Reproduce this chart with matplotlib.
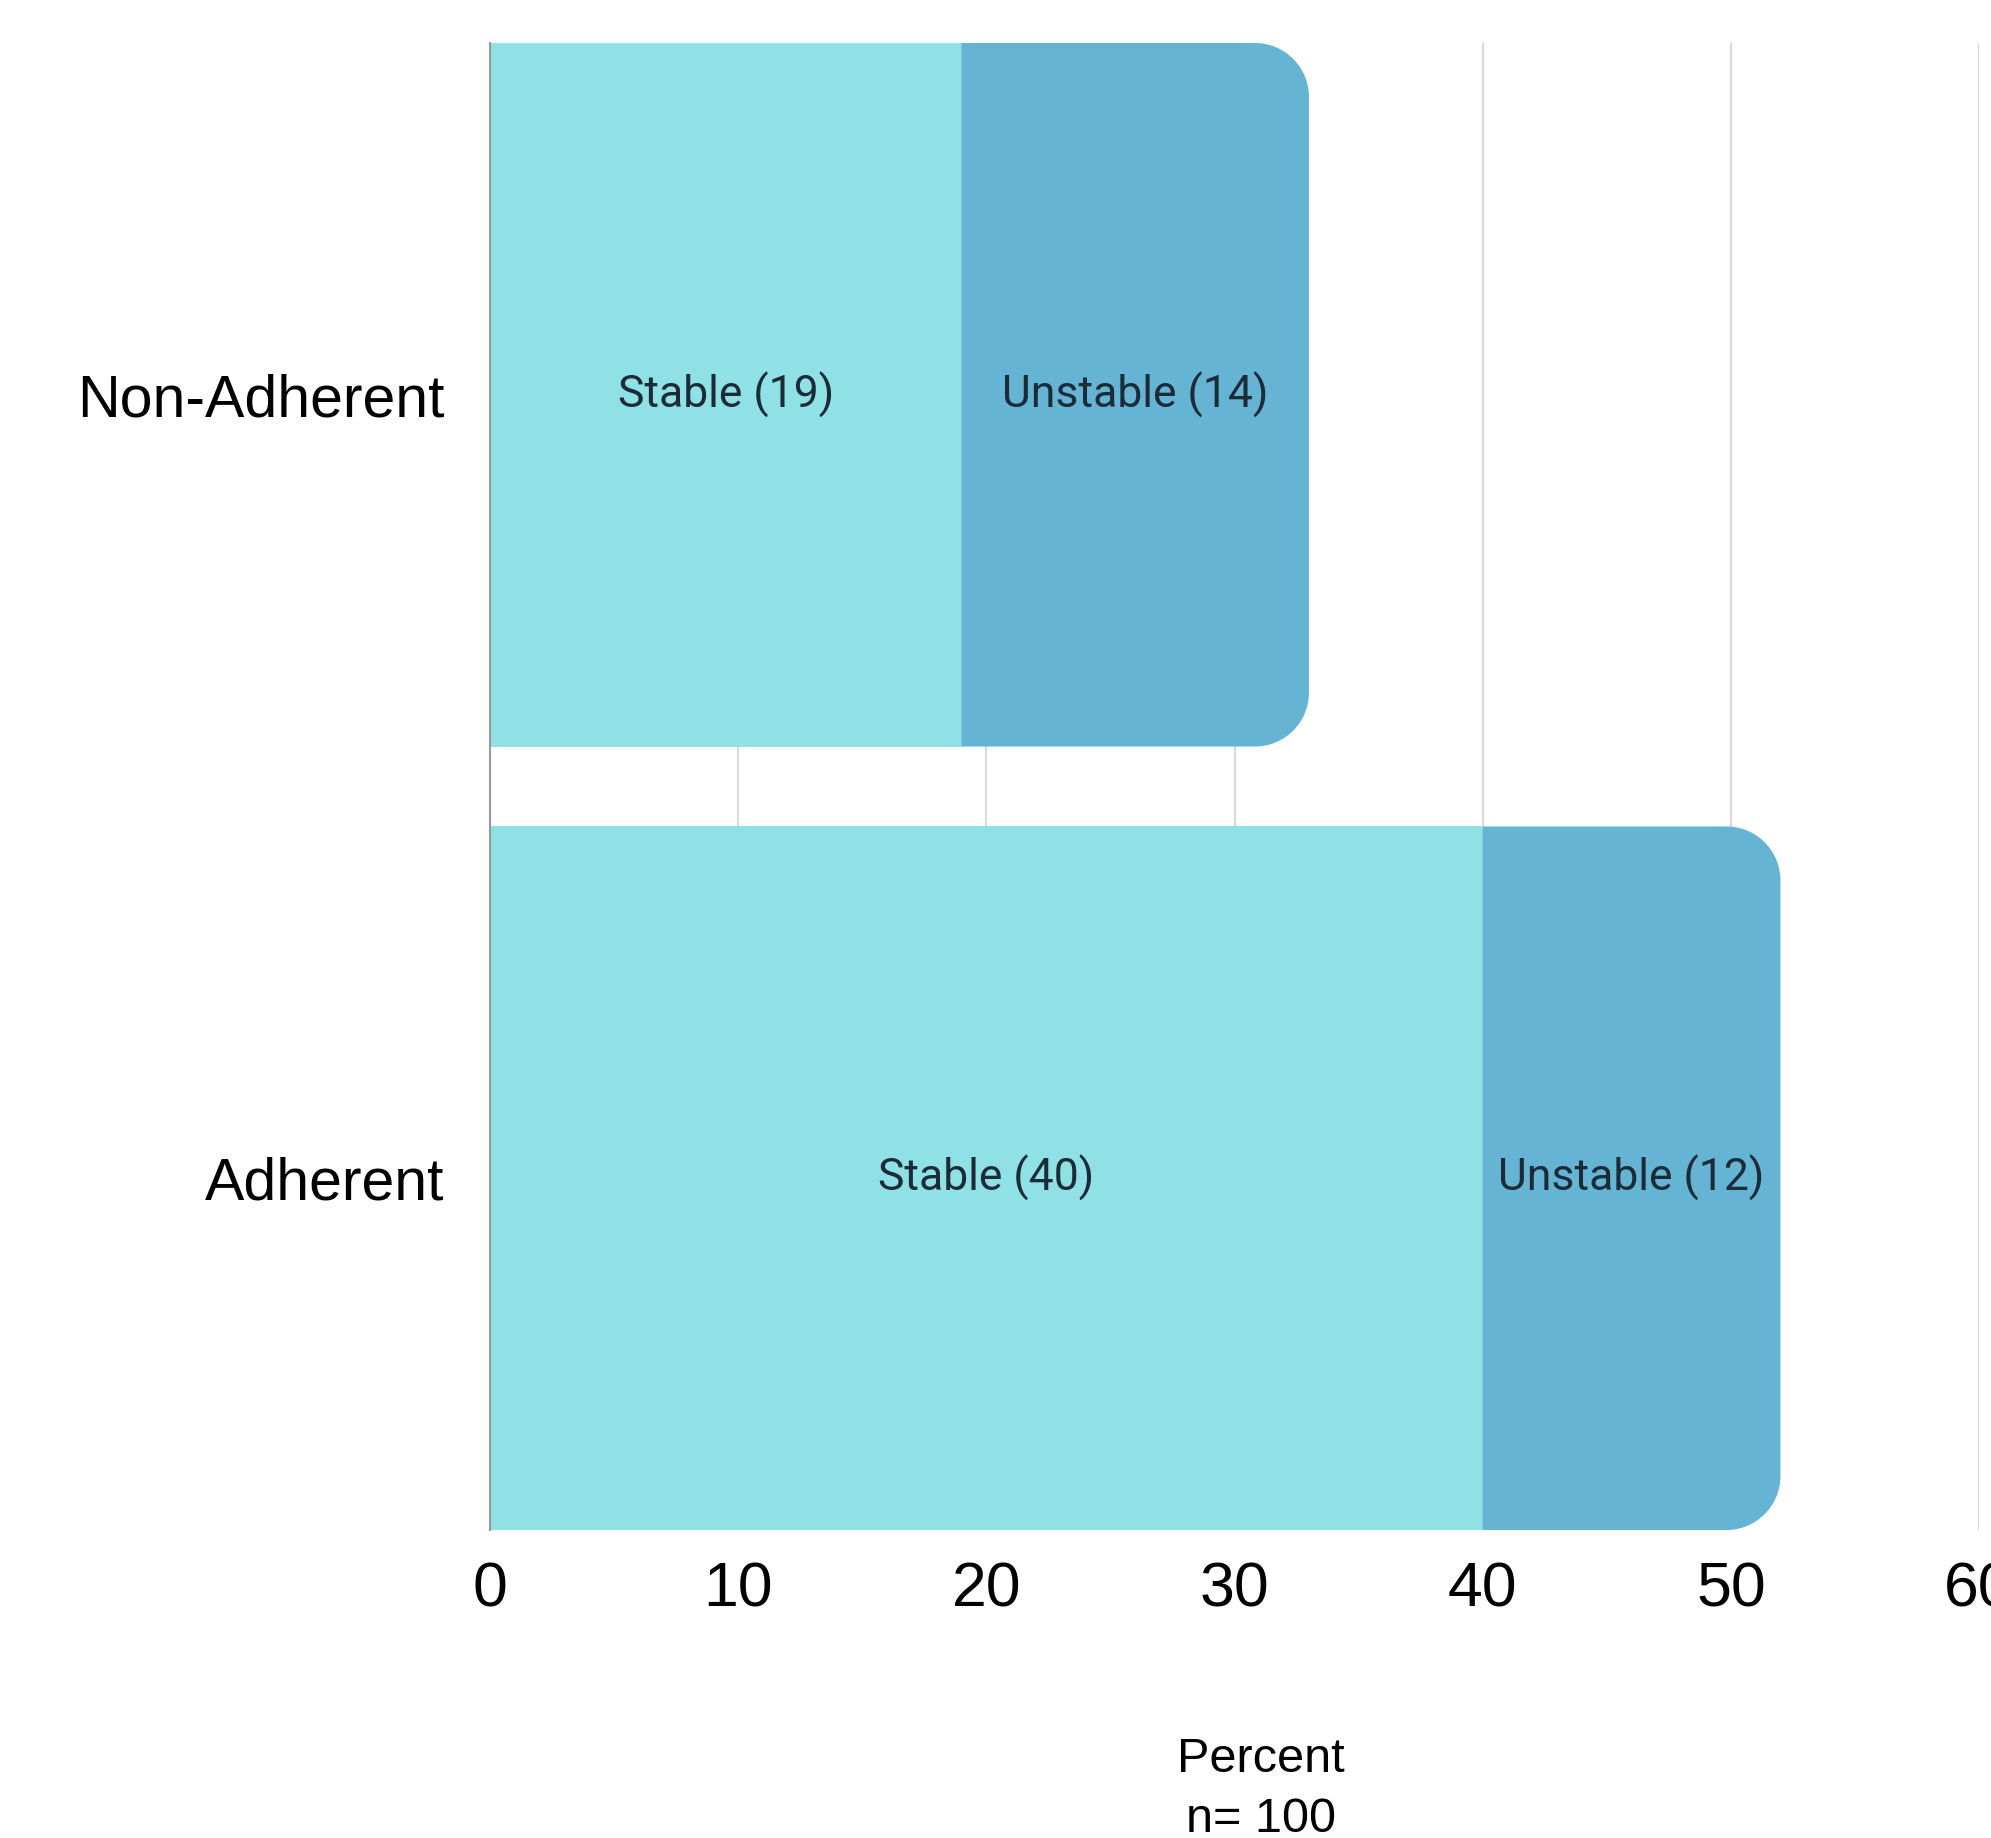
import matplotlib
matplotlib.use("Agg")
import matplotlib.pyplot as plt
from matplotlib.path import Path
from matplotlib.patches import PathPatch

# group data (percent, n = 100)
groups = ['Adherent', 'Non-Adherent']
stable = [40, 19]
unstable = [12, 14]
xticks = [0, 10, 20, 30, 40, 50, 60]

c_stable = '#8fe1e6'
c_unstable = '#66b4d3'

W, H, DPI = 1991, 1838, 100
fig = plt.figure(figsize=(W / DPI, H / DPI), dpi=DPI)
fig.patch.set_facecolor('white')

ax = fig.add_axes([490 / W, 1 - 1530 / H, 1489 / W, 1487 / H])
bar_h = 0.898
ax.set_xlim(0, 60)
ax.set_ylim(-bar_h / 2, 1 + bar_h / 2)

# corner radius in pixels -> data units
r_px = 54
rx = r_px / (1489 / 60)
ry = r_px / (1487 / (1 + bar_h))


def right_rounded(x0, y0, w, h, rx, ry):
    k = 0.5523
    x1, y1 = x0 + w, y0 + h
    verts = [(x0, y0), (x1 - rx, y0),
             (x1 - rx + k * rx, y0), (x1, y0 + ry - k * ry), (x1, y0 + ry),
             (x1, y1 - ry),
             (x1, y1 - ry + k * ry), (x1 - rx + k * rx, y1), (x1 - rx, y1),
             (x0, y1), (x0, y0)]
    codes = [Path.MOVETO, Path.LINETO,
             Path.CURVE4, Path.CURVE4, Path.CURVE4,
             Path.LINETO,
             Path.CURVE4, Path.CURVE4, Path.CURVE4,
             Path.LINETO, Path.CLOSEPOLY]
    return Path(verts, codes)


for i, g in enumerate(groups):
    ax.barh(i, stable[i], height=bar_h, color=c_stable, zorder=2)
    p = right_rounded(stable[i], i - bar_h / 2, unstable[i], bar_h, rx, ry)
    ax.add_patch(PathPatch(p, facecolor=c_unstable, edgecolor='none', zorder=2))
    ax.text(stable[i] / 2, i, f'Stable ({stable[i]})', ha='center', va='center',
            fontsize=32, family='Roboto', color='#1c2b38', zorder=3)
    ax.text(stable[i] + unstable[i] / 2, i, f'Unstable ({unstable[i]})',
            ha='center', va='center', fontsize=32, family='Roboto',
            color='#1c2b38', zorder=3)

# vertical grid
for t in xticks[1:]:
    ax.axvline(t, color='#d9d9d9', lw=1.5, zorder=1)

for s in ['top', 'right', 'bottom']:
    ax.spines[s].set_visible(False)
ax.spines['left'].set_color('#999999')
ax.spines['left'].set_linewidth(1.5)

ax.set_xticks(xticks)
ax.set_xticklabels([str(t) for t in xticks], fontsize=45, family='Liberation Sans')
ax.set_yticks(range(len(groups)))
ax.set_yticklabels(groups, fontsize=42.5, family='Liberation Sans')
ax.tick_params(axis='x', length=0, pad=22)
ax.tick_params(axis='y', length=0, pad=33)

fig.text(1261 / W, 1 - 1759 / H, 'Percent', ha='center', va='center',
         fontsize=35, family='Liberation Sans')
fig.text(1261 / W, 1 - 1820 / H, 'n= 100', ha='center', va='center',
         fontsize=35, family='Liberation Sans')

fig.savefig('out.png', dpi=DPI)
